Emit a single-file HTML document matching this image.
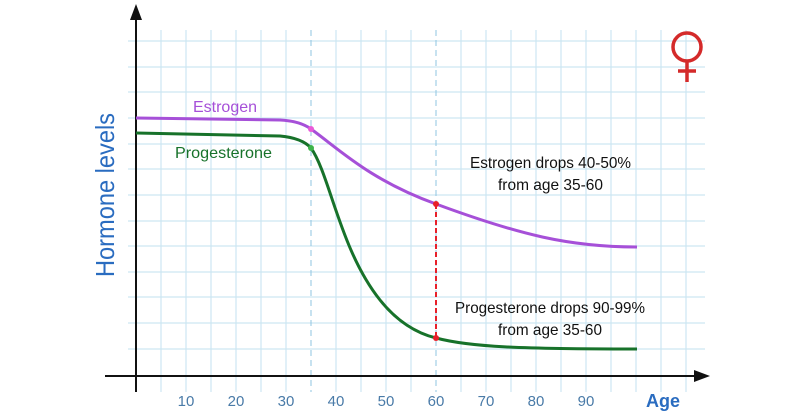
<!DOCTYPE html>
<html><head><style>body{margin:0;background:#fff}svg{display:block}</style></head><body>
<svg width="800" height="420" xmlns="http://www.w3.org/2000/svg" font-family="Liberation Sans, sans-serif">
<rect width="800" height="420" fill="#fff"/>
<g stroke="#cde6f2" stroke-width="1.2">
<line x1="161" y1="30" x2="161" y2="392"/><line x1="186" y1="30" x2="186" y2="392"/><line x1="211" y1="30" x2="211" y2="392"/><line x1="236" y1="30" x2="236" y2="392"/><line x1="261" y1="30" x2="261" y2="392"/><line x1="286" y1="30" x2="286" y2="392"/><line x1="336" y1="30" x2="336" y2="392"/><line x1="361" y1="30" x2="361" y2="392"/><line x1="386" y1="30" x2="386" y2="392"/><line x1="411" y1="30" x2="411" y2="392"/><line x1="461" y1="30" x2="461" y2="392"/><line x1="486" y1="30" x2="486" y2="392"/><line x1="511" y1="30" x2="511" y2="392"/><line x1="536" y1="30" x2="536" y2="392"/><line x1="561" y1="30" x2="561" y2="392"/><line x1="586" y1="30" x2="586" y2="392"/><line x1="611" y1="30" x2="611" y2="392"/><line x1="636" y1="30" x2="636" y2="392"/><line x1="661" y1="30" x2="661" y2="392"/><line x1="686" y1="30" x2="686" y2="392"/>
<line x1="128" y1="41" x2="705" y2="41"/><line x1="128" y1="67" x2="705" y2="67"/><line x1="128" y1="92" x2="705" y2="92"/><line x1="128" y1="118" x2="705" y2="118"/><line x1="128" y1="144" x2="705" y2="144"/><line x1="128" y1="169" x2="705" y2="169"/><line x1="128" y1="195" x2="705" y2="195"/><line x1="128" y1="221" x2="705" y2="221"/><line x1="128" y1="246" x2="705" y2="246"/><line x1="128" y1="272" x2="705" y2="272"/><line x1="128" y1="297" x2="705" y2="297"/><line x1="128" y1="323" x2="705" y2="323"/><line x1="128" y1="349" x2="705" y2="349"/>
</g>
<g stroke="#8fc4e0" stroke-width="1" stroke-dasharray="6,4">
<line x1="311" y1="30" x2="311" y2="392"/><line x1="436" y1="30" x2="436" y2="392"/>
</g>
<line x1="436" y1="204" x2="436" y2="338" stroke="#e8202a" stroke-width="2" stroke-dasharray="5,3"/>
<line x1="136" y1="392" x2="136" y2="14" stroke="#111" stroke-width="2"/>
<polygon points="136,4 130,20 142,20" fill="#111"/>
<line x1="105" y1="376" x2="700" y2="376" stroke="#111" stroke-width="2"/>
<polygon points="710,376 694,370 694,382" fill="#111"/>
<path d="M136,118 L280,120 Q300,121 311,129 C340,150 370,180 436,204 C520,235 570,247 637,247" fill="none" stroke="#a650d8" stroke-width="3"/>
<path d="M136,133 L280,136 Q302,138 311,148 C330,175 340,250 380,300 C400,325 420,334 436,338 C470,347 520,349 637,349" fill="none" stroke="#17722a" stroke-width="3"/>
<circle cx="311" cy="129" r="3" fill="#e85ad8"/><circle cx="311" cy="148" r="3" fill="#3cb44a"/>
<circle cx="436" cy="204" r="3" fill="#e8202a"/><circle cx="436" cy="338" r="3" fill="#e8202a"/>
<text x="193" y="112" font-size="16" fill="#a650d8" textLength="64" lengthAdjust="spacingAndGlyphs">Estrogen</text>
<text x="175" y="158" font-size="16" fill="#17722a" textLength="97" lengthAdjust="spacingAndGlyphs">Progesterone</text>
<g font-size="16" fill="#111" lengthAdjust="spacingAndGlyphs">
<text x="470" y="168" textLength="161" lengthAdjust="spacingAndGlyphs">Estrogen drops 40-50%</text>
<text x="498" y="190" textLength="105" lengthAdjust="spacingAndGlyphs">from age 35-60</text>
<text x="455" y="313" textLength="190" lengthAdjust="spacingAndGlyphs">Progesterone drops 90-99%</text>
<text x="498" y="335" textLength="104" lengthAdjust="spacingAndGlyphs">from age 35-60</text>
</g>
<g font-size="15" fill="#4a7ba8" text-anchor="middle">
<text x="186" y="406">10</text><text x="236" y="406">20</text><text x="286" y="406">30</text><text x="336" y="406">40</text><text x="386" y="406">50</text><text x="436" y="406">60</text><text x="486" y="406">70</text><text x="536" y="406">80</text><text x="586" y="406">90</text>
</g>
<text x="663" y="407" font-size="18" font-weight="bold" fill="#2a6cc0" text-anchor="middle">Age</text>
<text transform="translate(114,195) rotate(-90)" font-size="26" fill="#2a6cc0" text-anchor="middle" textLength="164" lengthAdjust="spacingAndGlyphs">Hormone levels</text>
<g stroke="#d42a2a" stroke-width="3.5" fill="none">
<circle cx="687" cy="47" r="14"/><line x1="687" y1="61" x2="687" y2="82"/><line x1="678" y1="71" x2="696" y2="71"/>
</g>
</svg>
</body></html>
